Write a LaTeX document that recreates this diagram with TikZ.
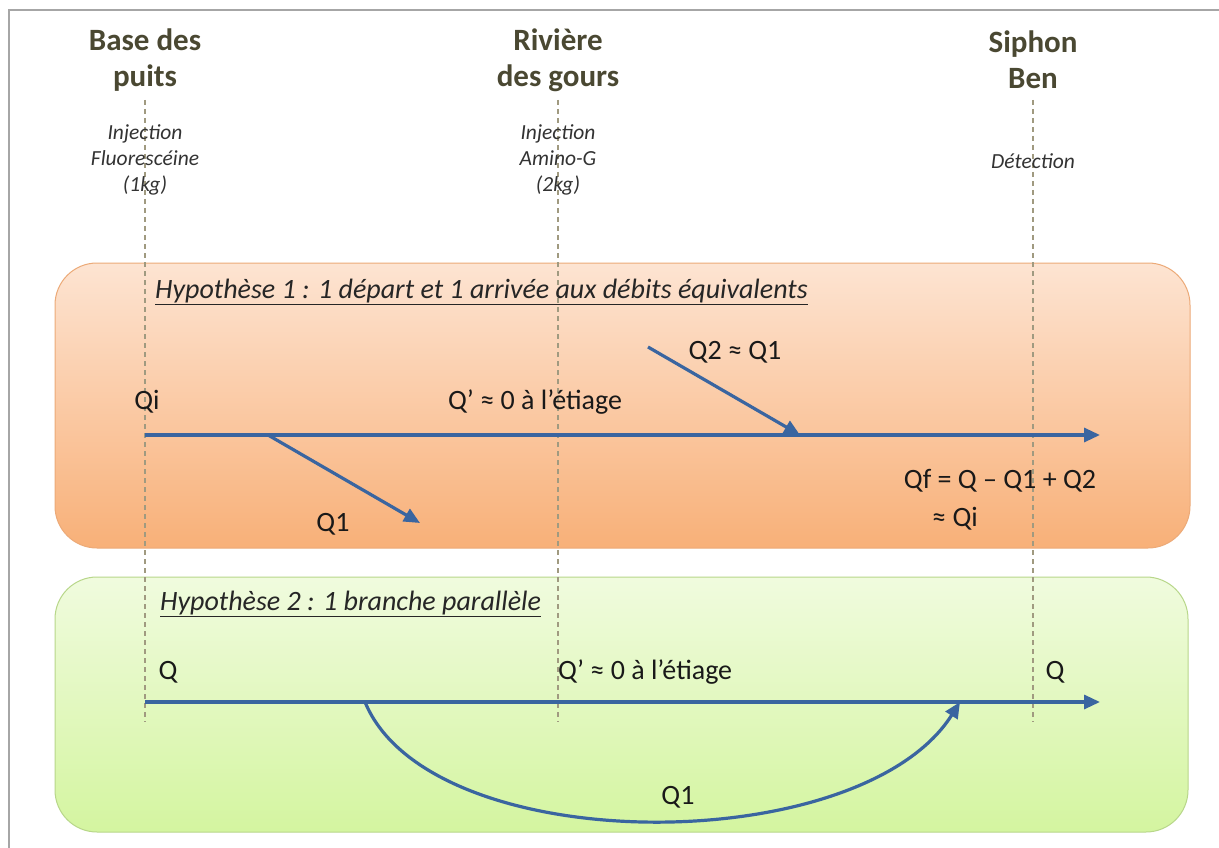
\documentclass[tikz,border=0pt]{standalone}
\usepackage{fontspec}
\setmainfont{Carlito}
\usepackage{tikz}
\usetikzlibrary{arrows.meta}
\usetikzlibrary{positioning}
\definecolor{flowblue}{RGB}{58,101,160}
\definecolor{siteolive}{RGB}{74,72,50}
\definecolor{guidegrey}{RGB}{160,154,128}
\definecolor{hypAtop}{RGB}{253,228,210}
\definecolor{hypAbot}{RGB}{248,176,120}
\definecolor{hypAline}{RGB}{236,170,120}
\definecolor{hypBtop}{RGB}{240,251,222}
\definecolor{hypBbot}{RGB}{212,245,160}
\definecolor{hypBline}{RGB}{184,215,138}
\tikzset{
  site/.style={font=\fontsize{31}{36}\selectfont\bfseries, text=siteolive, align=center, inner sep=0},
  note/.style={font=\fontsize{21.5}{26}\selectfont\itshape, text=black!80, align=center, inner sep=0},
  debit/.style={font=\fontsize{28}{32}\selectfont, text=black!90, inner sep=0},
  hyptitle/.style={font=\fontsize{28}{32}\selectfont\itshape, text=black!85, inner sep=0, anchor=west},
  guide/.style={guidegrey, line width=1.2pt, dash pattern=on 5pt off 4pt},
  flow/.style={flowblue, line width=3.2pt, -{Triangle[length=16pt,width=14pt]}},
}
\def\xbase{145}
\def\xriv{558}
\def\xsiph{1033}
\begin{document}
\begin{tikzpicture}[x=1pt, y=-1pt]
		\useasboundingbox (0,0) rectangle (1219,848);
		\fill[white] (0,0) rectangle (1219,848);
		\draw[gray!70, line width=1.6pt] (9,848) -- (9,10) -- (1219,10);
		% hypothesis boxes
		\shade[top color=hypAtop, bottom color=hypAbot, draw=hypAline, line width=1pt, rounded corners=42pt]
			(55,263) rectangle (1190,548);
		\shade[top color=hypBtop, bottom color=hypBbot, draw=hypBline, line width=1pt, rounded corners=42pt]
			(55,577) rectangle (1188,832);
		% sites
		\node[site] (base) at (\xbase,60) {Base des\\puits};
		\node[site] (riv) at (\xriv,60) {Rivière\\des gours};
		\node[site] (siph) at (\xsiph,60) {Siphon\\Ben};
		\draw[guide] (\xbase,100) -- (\xbase,722);
		\draw[guide] (\xriv,100) -- (\xriv,722);
		\draw[guide] (\xsiph,100) -- (\xsiph,722);
		\node[note] (injA) at (\xbase,160) {Injection\\Fluorescéine\\(1kg)};
		\node[note] (injB) at (\xriv,160) {Injection\\Amino-G\\(2kg)};
		\node[note] (detect) at (\xsiph,161) {Détection};
		% hypothese 1
		\node[hyptitle] (titleA) at (155,292) {\underline{Hypothèse 1 : 1 départ et 1 arrivée aux débits équivalents}};
		\coordinate (a0) at (\xbase,435);
		\coordinate (a1) at (1100,435);
		\coordinate (aout) at (268,435);
		\coordinate (aoutend) at (420,523);
		\coordinate (ainstart) at (648,347);
		\coordinate (ain) at (800,435);
		\draw[flow] (a0) -- (a1);
		\draw[flow] (aout) -- (aoutend);
		\draw[flow] (ainstart) -- (ain);
		\node[debit] (qi) at (147,402) {Qi};
		\node[debit] (qprimeA) at (535,402) {Q’ ≈ 0 à l’étiage};
		\node[debit] (q2) at (735,352) {Q2 ≈ Q1};
		\node[debit] (q1A) at (333,524) {Q1};
		\node[debit] (qf) at (1000,481) {Qf = Q – Q1 + Q2};
		\node[debit] (qfi) at (955,519) {≈ Qi};
		% hypothese 2
		\node[hyptitle] (titleB) at (160,604) {\underline{Hypothèse 2 : 1 branche parallèle}};
		\coordinate (b0) at (\xbase,702);
		\coordinate (b1) at (1100,702);
		\coordinate (bout) at (365,702);
		\coordinate (bin) at (960,702);
		\draw[flow] (b0) -- (b1);
		\draw[flow] (bout) .. controls (430,860) and (860,860) .. (bin);
		\node[debit] (qB) at (168,672) {Q};
		\node[debit, anchor=west] (qprimeB) at (\xriv,672) {Q’ ≈ 0 à l’étiage};
		\node[debit] (qBend) at (1055,672) {Q};
		\node[debit] (q1B) at (678,797) {Q1};
	\end{tikzpicture}
\end{document}
